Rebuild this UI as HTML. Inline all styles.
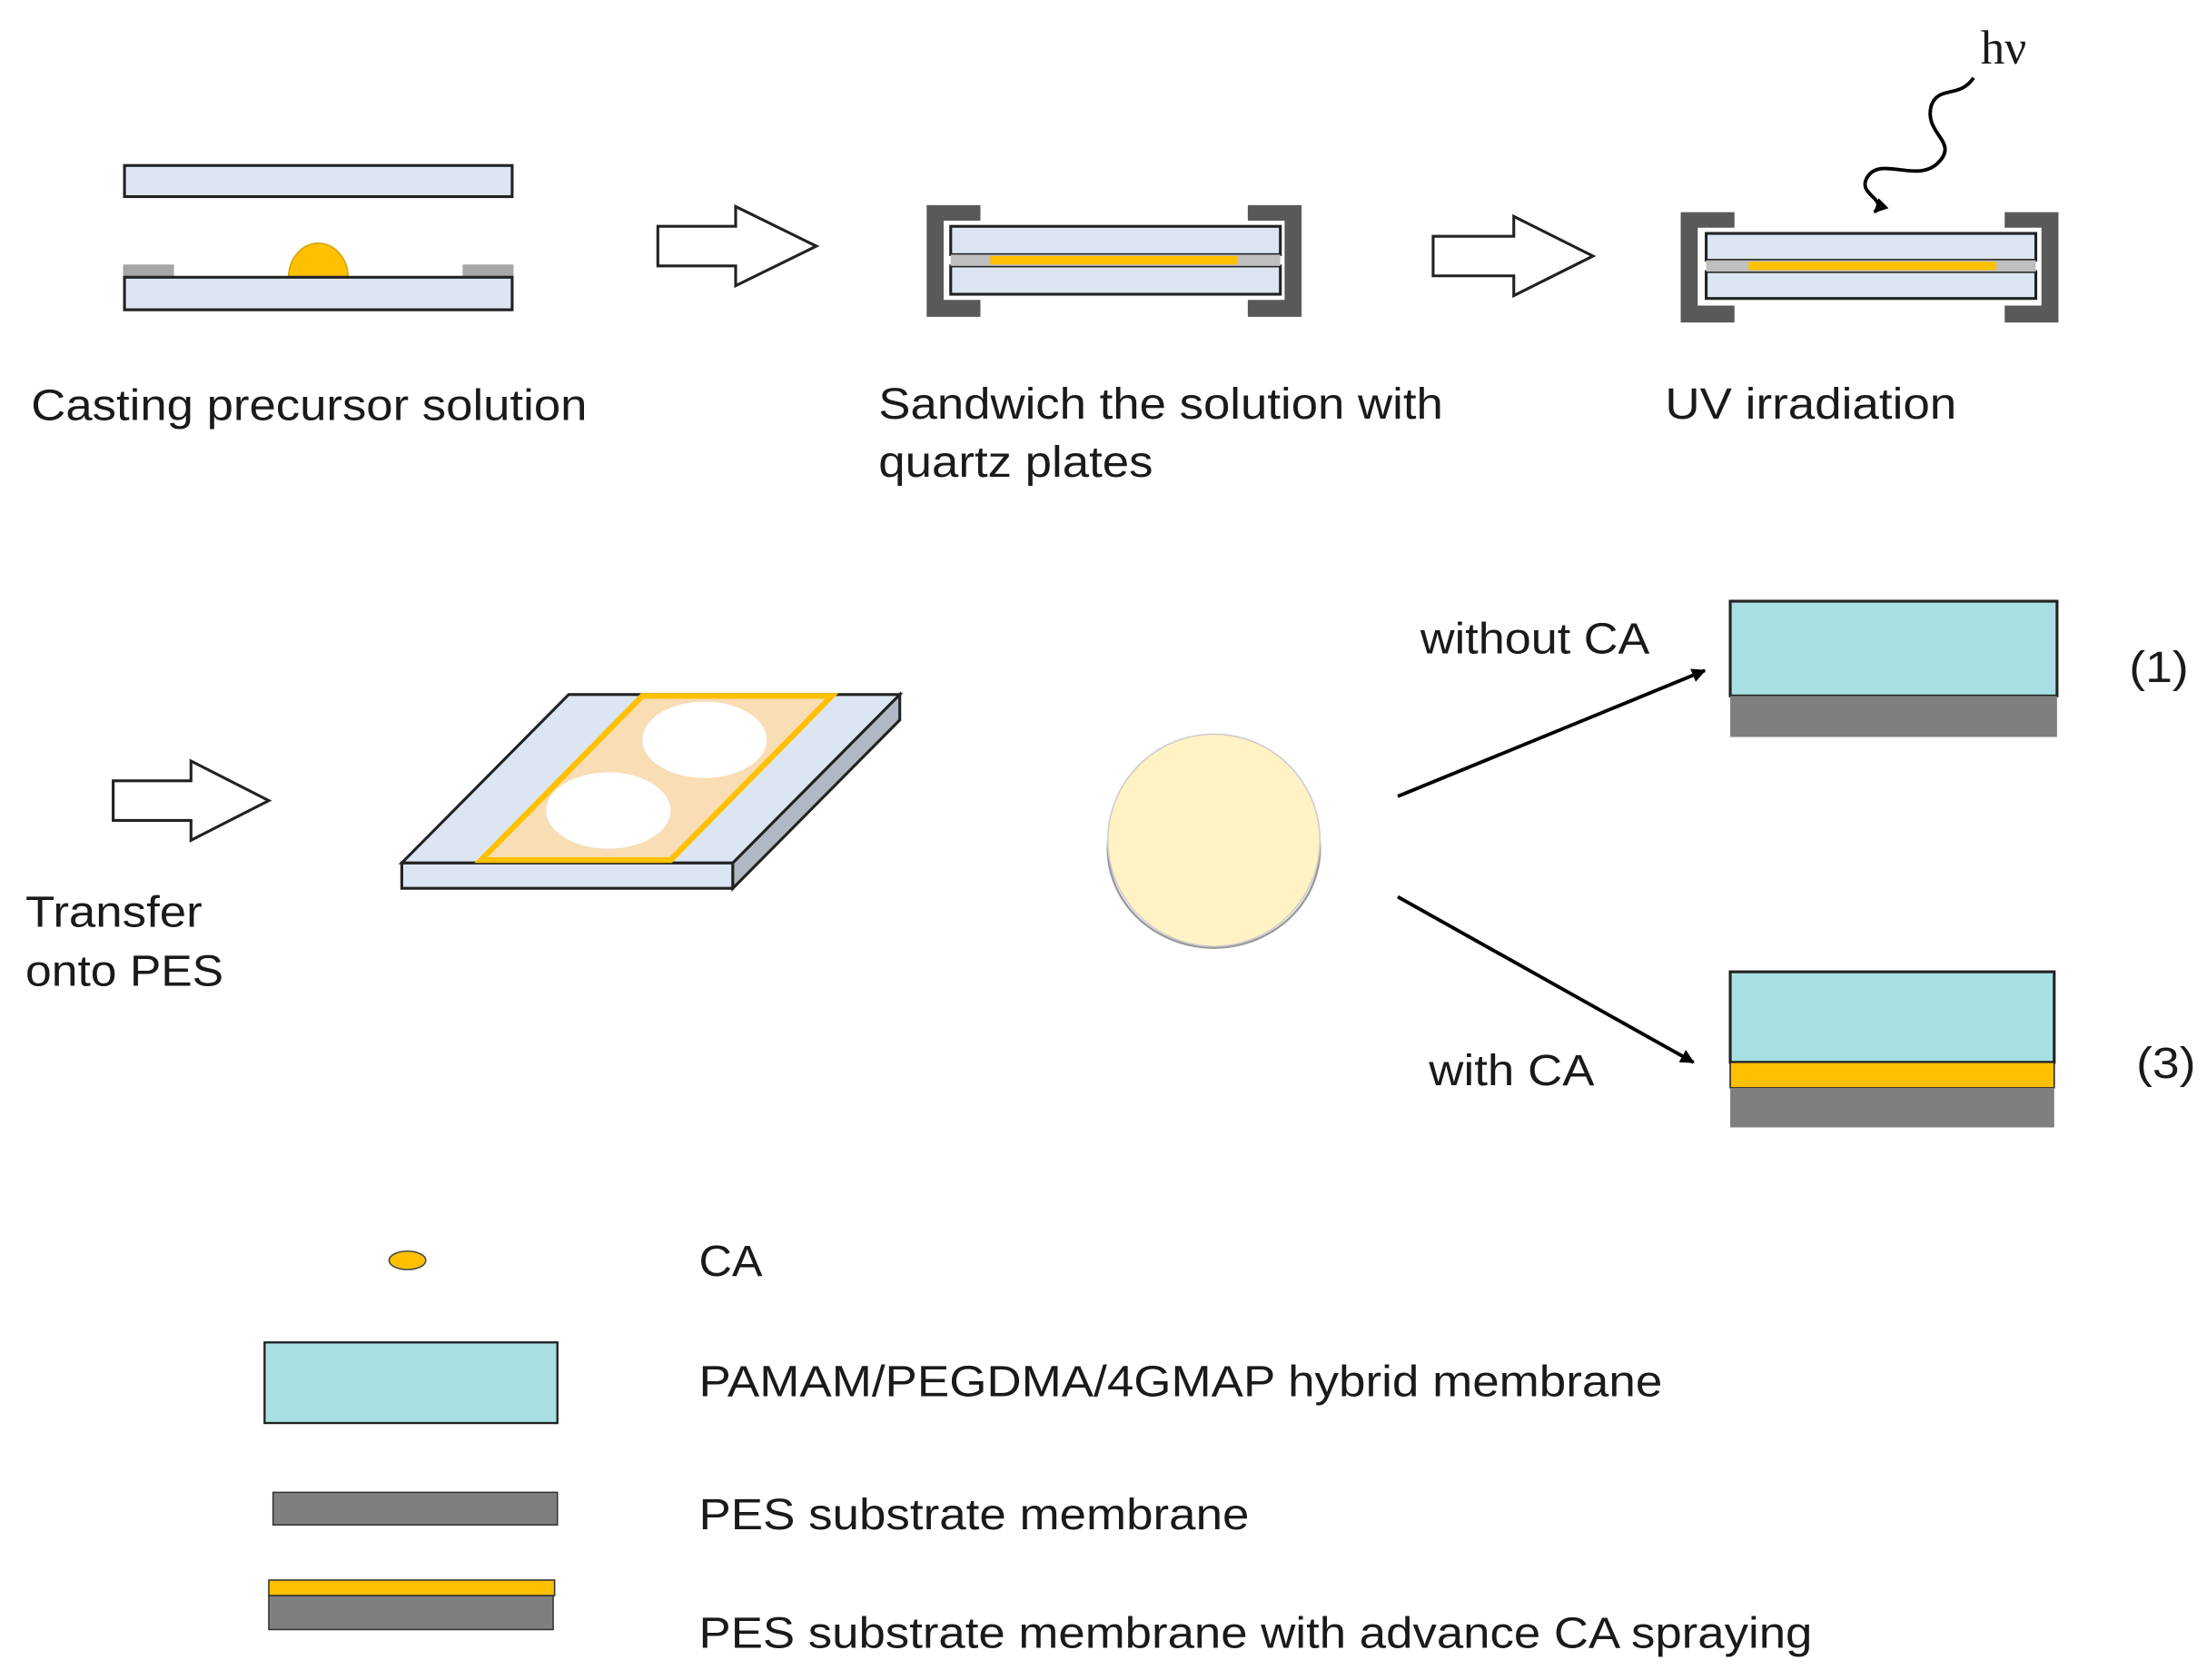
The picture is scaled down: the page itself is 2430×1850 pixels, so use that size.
<!DOCTYPE html>
<html><head><meta charset="utf-8"><style>
html,body{margin:0;padding:0;background:#fff;}
svg{display:block;}
text{font-family:"Liberation Sans",sans-serif;font-size:31px;fill:#1a1a1a;}
</style></head><body>
<svg width="2430" height="1850" viewBox="0 0 1560 1187.65" xmlns="http://www.w3.org/2000/svg">
<defs>
<marker id="ah" markerWidth="10" markerHeight="10" refX="9" refY="5" orient="auto" markerUnits="userSpaceOnUse">
<path d="M0,0 L10,5 L0,10 Z" fill="#000"/></marker>
</defs>
<rect x="88" y="117" width="274" height="22" fill="#dce6f2" stroke="#222" stroke-width="2"/>
<rect x="87" y="187" width="36" height="9" fill="#a6a6a6"/>
<rect x="327" y="187" width="36" height="9" fill="#a6a6a6"/>
<path d="M204,196 A21,24 0 0 1 246,196 Z" fill="#ffc000" stroke="#d9a000"/>
<rect x="88" y="196" width="274" height="23" fill="#dce6f2" stroke="#222" stroke-width="2"/>
<text x="22" y="297" textLength="393" lengthAdjust="spacingAndGlyphs">Casting precursor solution</text>
<path d="M465,160 L520,160 L520,146 L577,174 L520,202 L520,188 L465,188 Z" fill="#fff" stroke="#222" stroke-width="2"/>
<path d="M655,145 L693,145 L693,156 L667,156 L667,212 L693,212 L693,224 L655,224 Z" fill="#595959"/>
<path d="M920,145 L882,145 L882,156 L908,156 L908,212 L882,212 L882,224 L920,224 Z" fill="#595959"/>
<rect x="672" y="160" width="233" height="20" fill="#dce6f2" stroke="#222" stroke-width="2"/>
<rect x="672" y="188" width="233" height="20" fill="#dce6f2" stroke="#222" stroke-width="2"/>
<rect x="672" y="180" width="233" height="8" fill="#bfbfbf"/>
<rect x="700" y="181" width="175" height="6" fill="#ffc000"/>
<text x="621" y="296" textLength="399" lengthAdjust="spacingAndGlyphs">Sandwich the solution with</text>
<text x="621" y="337" textLength="194" lengthAdjust="spacingAndGlyphs">quartz plates</text>
<path d="M1013,167 L1070,167 L1070,153 L1126,181 L1070,209 L1070,195 L1013,195 Z" fill="#fff" stroke="#222" stroke-width="2"/>
<path d="M1188,150 L1226,150 L1226,161 L1200,161 L1200,216 L1226,216 L1226,228 L1188,228 Z" fill="#595959"/>
<path d="M1455,150 L1417,150 L1417,161 L1443,161 L1443,216 L1417,216 L1417,228 L1455,228 Z" fill="#595959"/>
<rect x="1206" y="165" width="233" height="19" fill="#dce6f2" stroke="#222" stroke-width="2"/>
<rect x="1206" y="192" width="233" height="19" fill="#dce6f2" stroke="#222" stroke-width="2"/>
<rect x="1206" y="184" width="233" height="8" fill="#bfbfbf"/>
<rect x="1236" y="185" width="175" height="6" fill="#ffc000"/>
<path d="M1395,55 C1385,70 1370,60 1365,75 C1360,95 1385,100 1370,115 C1355,130 1330,110 1320,125 C1312,138 1335,140 1325,150" fill="none" stroke="#000" stroke-width="2.5" marker-end="url(#ah)"/>
<text x="1400" y="45" style="font-family:'Liberation Serif',serif;font-size:34px">hν</text>
<text x="1177" y="296" textLength="206" lengthAdjust="spacingAndGlyphs">UV irradiation</text>
<path d="M80,552 L135,552 L135,538 L190,566 L135,594 L135,580 L80,580 Z" fill="#fff" stroke="#222" stroke-width="2"/>
<text x="18" y="655" textLength="125" lengthAdjust="spacingAndGlyphs">Transfer</text>
<text x="18" y="697" textLength="140" lengthAdjust="spacingAndGlyphs">onto PES</text>
<path d="M284,610 L518,610 L518,628 L284,628 Z" fill="#dce6f2" stroke="#222" stroke-width="2"/>
<path d="M518,610 L636,491 L636,509 L518,628 Z" fill="#b0b8c4" stroke="#222" stroke-width="2"/>
<path d="M284,610 L518,610 L636,491 L402,491 Z" fill="#dce6f2" stroke="#222" stroke-width="2"/>
<path d="M340,608 L474,608 L588,492 L454,492 Z" fill="#f8ddb5" stroke="#ffc000" stroke-width="4"/>
<ellipse cx="430" cy="573" rx="44" ry="27" fill="#fff"/>
<ellipse cx="498" cy="523" rx="44" ry="27" fill="#fff"/>
<ellipse cx="858" cy="600" rx="75" ry="70" fill="#fff" stroke="#999" stroke-width="1.5"/>
<circle cx="858" cy="594" r="75" fill="#fff2c4" stroke="#ccc" stroke-width="1"/>
<line x1="988" y1="563" x2="1205" y2="474" stroke="#000" stroke-width="2.5" marker-end="url(#ah)"/>
<line x1="988" y1="634" x2="1197" y2="751" stroke="#000" stroke-width="2.5" marker-end="url(#ah)"/>
<text x="1004" y="462" textLength="162" lengthAdjust="spacingAndGlyphs">without CA</text>
<text x="1010" y="767" textLength="117" lengthAdjust="spacingAndGlyphs">with CA</text>
<rect x="1223" y="425" width="231" height="67" fill="#a8dfe2" stroke="#222" stroke-width="2"/>
<rect x="1223" y="492" width="231" height="29" fill="#7f7f7f"/>
<rect x="1223" y="687" width="229" height="64" fill="#a8dfe2" stroke="#222" stroke-width="2"/>
<rect x="1223" y="751" width="229" height="18" fill="#ffc000" stroke="#222" stroke-width="1"/>
<rect x="1223" y="769" width="229" height="28" fill="#7f7f7f"/>
<text x="1505" y="482" textLength="42" lengthAdjust="spacingAndGlyphs">(1)</text>
<text x="1510" y="762" textLength="42" lengthAdjust="spacingAndGlyphs">(3)</text>
<ellipse cx="288" cy="891" rx="13" ry="6.5" fill="#ffc000" stroke="#444" stroke-width="1"/>
<rect x="187" y="949" width="207" height="57" fill="#a8dfe2" stroke="#222" stroke-width="1.5"/>
<rect x="193" y="1055" width="201" height="23" fill="#7f7f7f" stroke="#333" stroke-width="1"/>
<rect x="190" y="1117" width="202" height="11" fill="#ffc000" stroke="#333" stroke-width="1"/>
<rect x="190" y="1128" width="201" height="24" fill="#7f7f7f" stroke="#333" stroke-width="1"/>
<text x="494" y="902" textLength="45" lengthAdjust="spacingAndGlyphs">CA</text>
<text x="494" y="987" textLength="681" lengthAdjust="spacingAndGlyphs">PAMAM/PEGDMA/4GMAP  hybrid membrane</text>
<text x="494" y="1081" textLength="389" lengthAdjust="spacingAndGlyphs">PES  substrate membrane</text>
<text x="494" y="1165" textLength="787" lengthAdjust="spacingAndGlyphs">PES  substrate membrane with advance CA spraying</text>
</svg>
</body></html>
